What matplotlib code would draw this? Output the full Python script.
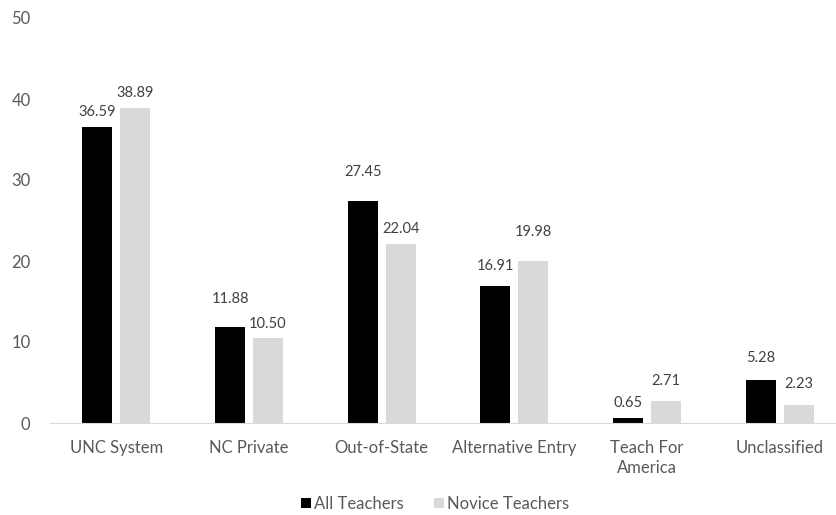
import numpy as np
import matplotlib.pyplot as plt

categories = ["UNC System", "NC Private", "Out-of-State", "Alternative Entry",
              "Teach For\nAmerica", "Unclassified"]
all_teachers = [36.59, 11.88, 27.45, 16.91, 0.65, 5.28]
novice_teachers = [38.89, 10.50, 22.04, 19.98, 2.71, 2.23]
series_names = ["All Teachers", "Novice Teachers"]

# label gap above each bar (pixels), labels were hand placed in the original
gap_all = [15, 28, 29, 20, 15, 22]
gap_novice = [15, 14, 15, 29, 20, 21]

plt.rcParams['font.family'] = ['Lato', 'DejaVu Sans']
txt = '#595959'

fig = plt.figure(figsize=(8.36, 5.15), dpi=100)
ax = fig.add_axes([50 / 836, 92 / 515, 796 / 836, 405 / 515])

x = np.arange(len(categories))
w = 0.226
off = 0.143
b1 = ax.bar(x - off, all_teachers, w, color='black', label=series_names[0])
b2 = ax.bar(x + off, novice_teachers, w, color='#d9d9d9', label=series_names[1])

for bars, vals, gaps in ((b1, all_teachers, gap_all), (b2, novice_teachers, gap_novice)):
    for r, v, g in zip(bars, vals, gaps):
        ax.annotate(f"{v:.2f}", (r.get_x() + r.get_width() / 2, v),
                    xytext=(0, g * 0.72), textcoords='offset points',
                    ha='center', va='center', fontsize=10.5, color='#404040')

ax.set_xlim(-0.5, len(categories) - 0.5)
ax.set_ylim(0, 50)
ax.set_yticks(range(0, 51, 10))
ax.set_xticks(x)
ax.set_xticklabels(categories, linespacing=1.35)
ax.tick_params(axis='both', length=0, labelsize=12, labelcolor=txt)
ax.tick_params(axis='y', pad=14)
ax.tick_params(axis='x', pad=12)
for s in ['top', 'right', 'left']:
    ax.spines[s].set_visible(False)
ax.spines['bottom'].set_color('#d9d9d9')

leg = fig.legend(handles=[b1, b2], loc='center', bbox_to_anchor=(435 / 836, 11 / 515),
                 ncol=2, frameon=False, fontsize=12, handlelength=0.6,
                 handleheight=0.6, handletextpad=0.2, columnspacing=1.8)
for t in leg.get_texts():
    t.set_color(txt)

fig.savefig('out.png', dpi=100)
